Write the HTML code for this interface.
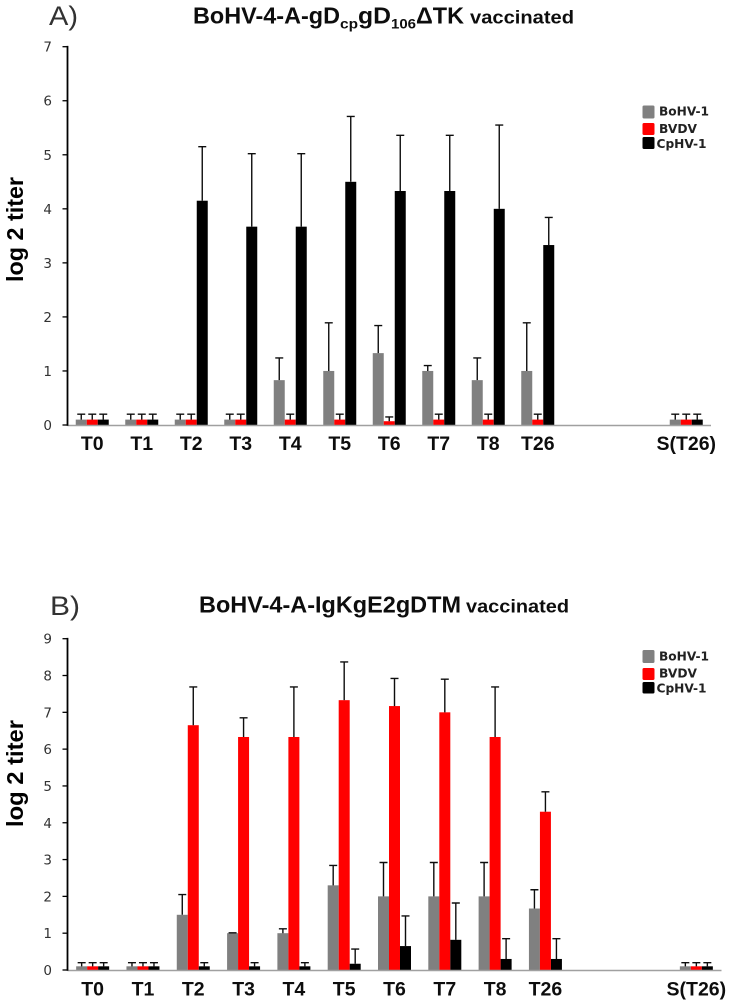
<!DOCTYPE html>
<html lang="en">
<head>
<meta charset="utf-8">
<title>Antibody titers after vaccination</title>
<style>
html,body{margin:0;padding:0;background:#fff;}
svg{display:block;}
text{font-family:"Liberation Sans",sans-serif;}
.tick{font-family:"DejaVu Sans",sans-serif;font-size:13.5px;fill:#333;text-anchor:end;}
.cat{font-weight:bold;font-size:19.5px;fill:#111;text-anchor:middle;}
.ytitle{font-weight:bold;font-size:23px;fill:#000;text-anchor:middle;}
.leg{font-family:"DejaVu Sans",sans-serif;font-weight:bold;font-size:12.5px;fill:#222;}
.ttl{font-weight:bold;font-size:23px;fill:#111;}
.sub{font-weight:bold;font-size:14px;fill:#111;}
.vac{font-weight:bold;font-size:18.5px;fill:#111;}
.panel{font-size:27px;fill:#333;}
</style>
</head>
<body>
<svg id="root" width="729" height="1004" viewBox="0 0 729 1004" xmlns="http://www.w3.org/2000/svg">
  <defs><filter id="soft" x="0" y="0" width="100%" height="100%"><feGaussianBlur stdDeviation="0.35"/></filter></defs>
  <g filter="url(#soft)">
  <g id="chart-a">
    <text class="panel" x="49" y="25" textLength="29" lengthAdjust="spacingAndGlyphs">A)</text>
    <g>
      <text class="ttl" x="193" y="23.5" textLength="147" lengthAdjust="spacingAndGlyphs">BoHV-4-A-gD</text>
      <text class="sub" x="340" y="28.5" textLength="18" lengthAdjust="spacingAndGlyphs">cp</text>
      <text class="ttl" x="358" y="23.5" textLength="33" lengthAdjust="spacingAndGlyphs">gD</text>
      <text class="sub" x="391" y="28.5" textLength="25" lengthAdjust="spacingAndGlyphs">106</text>
      <text class="ttl" x="416" y="23.5" textLength="48" lengthAdjust="spacingAndGlyphs">ΔTK</text>
      <text class="vac" x="470" y="23.5" textLength="104" lengthAdjust="spacingAndGlyphs">vaccinated</text>
    </g>
    <text class="ytitle" transform="translate(23,229.5) rotate(-90)" textLength="105" lengthAdjust="spacingAndGlyphs">log 2 titer</text>
    <g>
      <rect x="642.5" y="105.5" width="12" height="13" rx="1.5" fill="#808080"/>
      <text class="leg" x="659" y="115.5" textLength="50" lengthAdjust="spacingAndGlyphs">BoHV-1</text>
      <rect x="642.5" y="123" width="12" height="12" rx="1.5" fill="#ff0000"/>
      <text class="leg" x="659" y="133" textLength="38" lengthAdjust="spacingAndGlyphs">BVDV</text>
      <rect x="642.5" y="137" width="12" height="12" rx="1.5" fill="#000"/>
      <text class="leg" x="656.5" y="148" textLength="50" lengthAdjust="spacingAndGlyphs">CpHV-1</text>
    </g>
  </g>
  <g id="chart-b">
    <text class="panel" x="50" y="615" textLength="30" lengthAdjust="spacingAndGlyphs">B)</text>
    <g>
      <text class="ttl" x="199" y="612.5" textLength="262" lengthAdjust="spacingAndGlyphs">BoHV-4-A-IgKgE2gDTM</text>
      <text class="vac" x="466" y="612.5" textLength="103" lengthAdjust="spacingAndGlyphs">vaccinated</text>
    </g>
    <text class="ytitle" transform="translate(23,773.5) rotate(-90)" textLength="107" lengthAdjust="spacingAndGlyphs">log 2 titer</text>
    <g>
      <rect x="642.5" y="650" width="12" height="13" rx="1.5" fill="#808080"/>
      <text class="leg" x="659" y="660.5" textLength="50" lengthAdjust="spacingAndGlyphs">BoHV-1</text>
      <rect x="642.5" y="668" width="12" height="12" rx="1.5" fill="#ff0000"/>
      <text class="leg" x="659" y="677.5" textLength="38" lengthAdjust="spacingAndGlyphs">BVDV</text>
      <rect x="642.5" y="682" width="12" height="11.5" rx="1.5" fill="#000"/>
      <text class="leg" x="656.5" y="692.5" textLength="50" lengthAdjust="spacingAndGlyphs">CpHV-1</text>
    </g>
  </g>
  </g>
</svg>
<script>
const categories = ['T0','T1','T2','T3','T4','T5','T6','T7','T8','T26','','','S(T26)'];
const seriesNames = ['BoHV-1','BVDV','CpHV-1'];
const seriesColors = ['#808080','#ff0000','#000000'];

const aTicks = [0,1,2,3,4,5,6,7];
const aBoHV = [0.1,0.1,0.1,0.1,0.83,1,1.33,1,0.83,1,null,null,0.1];
const aBVDV = [0.1,0.1,0.1,0.1,0.1,0.1,0.07,0.1,0.1,0.1,null,null,0.1];
const aCpHV = [0.1,0.1,4.15,3.67,3.67,4.5,4.33,4.33,4,3.33,null,null,0.1];
const aBoHVErr = [0.1,0.1,0.1,0.1,0.41,0.89,0.51,0.1,0.41,0.89,null,null,0.1];
const aBVDVErr = [0.1,0.1,0.1,0.1,0.1,0.1,0.08,0.1,0.1,0.1,null,null,0.1];
const aCpHVErr = [0.1,0.1,1,1.35,1.35,1.21,1.03,1.03,1.55,0.51,null,null,0.1];

const bTicks = [0,1,2,3,4,5,6,7,8,9];
const bBoHV = [0.1,0.1,1.5,1,1,2.3,2,2,2,1.67,null,null,0.1];
const bBVDV = [0.1,0.1,6.65,6.33,6.33,7.33,7.17,7,6.33,4.3,null,null,0.1];
const bCpHV = [0.1,0.1,0.1,0.1,0.1,0.17,0.65,0.82,0.3,0.3,null,null,0.1];
const bBoHVErr = [0.1,0.1,0.55,0.01,0.12,0.54,0.92,0.92,0.92,0.51,null,null,0.1];
const bBVDVErr = [0.1,0.1,1.04,0.52,1.36,1.04,0.75,0.9,1.36,0.54,null,null,0.1];
const bCpHVErr = [0.1,0.1,0.1,0.1,0.1,0.4,0.82,1,0.55,0.55,null,null,0.1];

const NS = 'http://www.w3.org/2000/svg';

function make(parent, tag, attrs, txt) {
  const node = document.createElementNS(NS, tag);
  for (const k in attrs) node.setAttribute(k, attrs[k]);
  if (txt !== undefined) node.textContent = txt;
  parent.appendChild(node);
  return node;
}

function drawChart(opt) {
  const host = document.getElementById(opt.id);
  const bandW = (opt.x1 - opt.x0) / categories.length;
  const barW = 11;
  const xBand = i => opt.x0 + bandW * (i + 0.5);
  const xBar = (i, s) => xBand(i) + (s - 1.5) * barW;
  const y = v => opt.y0 - (v / opt.yMax) * (opt.y0 - opt.yTop);

  // bars first, error bars above them
  opt.values.forEach((vals, s) => {
    vals.forEach((v, i) => {
      if (v === null) return;
      const bar = make(host, 'rect', {x: xBar(i, s), y: y(v), width: barW, height: opt.y0 - y(v), fill: seriesColors[s]});
      
      
    });
  });
  opt.values.forEach((vals, s) => {
    vals.forEach((v, i) => {
      if (v === null) return;
      const top = y(v + opt.errors[s][i]);
      const cx = xBar(i, s) + barW / 2;
      const eb = make(host, 'path', {d: 'M' + cx + ' ' + y(v) + 'V' + top + 'M' + (cx - 4) + ' ' + top + 'H' + (cx + 4), stroke: '#111', 'stroke-width': 1.4, fill: 'none'});
      
      
    });
  });

  const xAxis = make(host, 'line', {x1: opt.x0, x2: opt.x1, y1: opt.y0 + 0.5, y2: opt.y0 + 0.5, stroke: '#a0a0a0', 'stroke-width': 1.5});
  
  

  const yAxis = make(host, 'line', {x1: opt.x0, x2: opt.x0, y1: opt.yTop - 0.8, y2: opt.y0 + 0.8, stroke: '#000', 'stroke-width': 1.8});
  
  

  opt.ticks.forEach(t => {
    const mark = make(host, 'line', {x1: opt.x0 - 5, x2: opt.x0, y1: y(t), y2: y(t), stroke: '#000', 'stroke-width': 1.3});
    
    
    const label = make(host, 'text', {x: 52, y: y(t) + 5, class: 'tick'}, String(t));
    
    
  });

  categories.forEach((c, i) => {
    if (!c) return;
    const label = make(host, 'text', {x: xBand(i), y: opt.labelY, class: 'cat'}, c);
    
    
  });
}

drawChart({id: 'chart-a', x0: 67.5, x1: 711, y0: 425, yTop: 46.7, yMax: 7, ticks: aTicks, labelY: 450,
  values: [aBoHV, aBVDV, aCpHV], errors: [aBoHVErr, aBVDVErr, aCpHVErr]});
drawChart({id: 'chart-b', x0: 67.5, x1: 721.5, y0: 970, yTop: 638.7, yMax: 9, ticks: bTicks, labelY: 995.5,
  values: [bBoHV, bBVDV, bCpHV], errors: [bBoHVErr, bBVDVErr, bCpHVErr]});
</script>
</body>
</html>
